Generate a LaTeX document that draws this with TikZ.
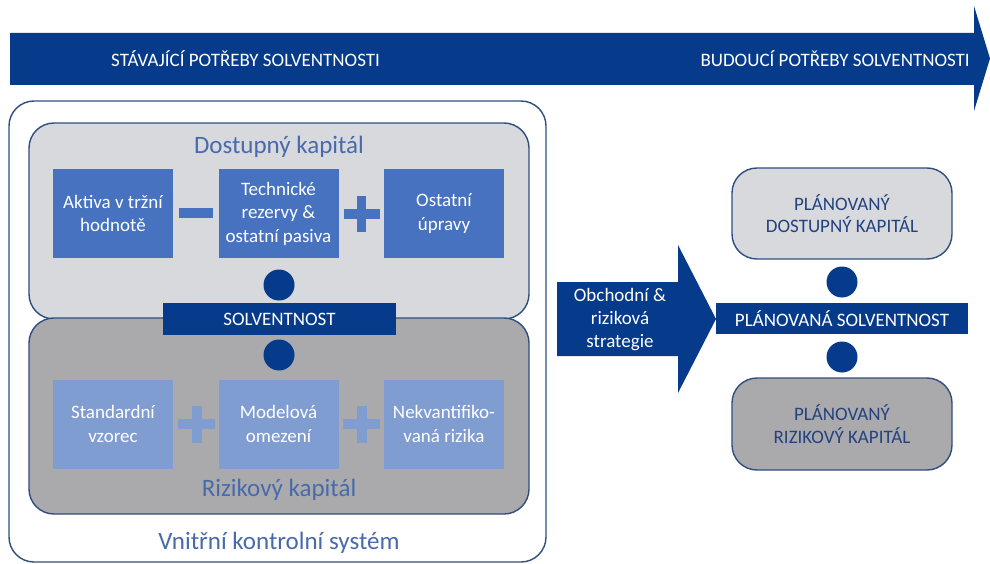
\documentclass[tikz,border=0pt]{standalone}
\usepackage{fontspec}
\setmainfont{Carlito}
\definecolor{navy}{RGB}{6,58,138}
\definecolor{boxblue}{RGB}{70,114,192}
\definecolor{lightblue}{RGB}{128,157,210}
\definecolor{lightgrey}{RGB}{215,217,221}
\definecolor{darkgrey}{RGB}{170,170,172}
\definecolor{txtblue}{RGB}{72,106,172}
\definecolor{bordercol}{RGB}{48,78,128}
\definecolor{darktxt}{RGB}{36,66,128}
\begin{document}
\begin{tikzpicture}[x=1pt,y=-1pt,
  bartext/.style={text=white,font=\fontsize{19}{23}\selectfont,inner sep=0pt},
  panel/.style={draw=bordercol,line width=1.4pt,rounded corners=25pt},
  bluebox/.style={fill=boxblue,text=white,minimum width=120pt,minimum height=89pt,align=center,inner sep=0pt,font=\fontsize{19}{23.5}\selectfont},
  lbluebox/.style={bluebox,fill=lightblue},
  dot/.style={circle,fill=navy,minimum size=31pt,inner sep=0pt},
  bignote/.style={text=txtblue,font=\fontsize{25}{30}\selectfont,inner sep=0pt},
  navybar/.style={fill=navy,text=white,inner sep=0pt,font=\fontsize{19}{23}\selectfont},
  rtext/.style={text=darktxt,align=center,font=\fontsize{19}{22.5}\selectfont,inner sep=0pt}
]
\useasboundingbox (0,0) rectangle (990,564);
% top arrow
\fill[navy] (10,33) -- (974,33) -- (974,6) -- (990,58.5) -- (974,111) -- (974,85) -- (10,85) -- cycle;
\node[bartext,anchor=west] (cur) at (111,59) {STÁVAJÍCÍ POTŘEBY SOLVENTNOSTI};
\node[bartext,anchor=east] (fut) at (970,59) {BUDOUCÍ POTŘEBY SOLVENTNOSTI};
% outer box
\draw[panel,fill=white] (9,101) rectangle (546,562);
% panels
\draw[panel,fill=lightgrey] (29,123) rectangle (529,319);
\draw[panel,fill=darkgrey] (29,318) rectangle (529,514);
\node[bignote] (dk) at (279,147) {Dostupný kapitál};
\node[bignote] (rk) at (279,490) {Rizikový kapitál};
\node[bignote] (vks) at (279,543) {Vnitřní kontrolní systém};
% top row
\node[bluebox] (a1) at (113,213.5) {Aktiva v tržní\\hodnotě};
\node[bluebox] (a2) at (278.5,213.5) {Technické\\rezervy \&\\ostatní pasiva};
\node[bluebox] (a3) at (444,213.5) {Ostatní\\úpravy};
\node[fill=boxblue,minimum width=34pt,minimum height=9pt,inner sep=0pt] (minus) at (196,213) {};
\node[fill=boxblue,minimum width=36pt,minimum height=9pt,inner sep=0pt] (plus1) at (361.5,214) {};
\node[fill=boxblue,minimum width=9pt,minimum height=36pt,inner sep=0pt] at (plus1) {};
% bottom row
\node[lbluebox] (b1) at (113,424) {Standardní\\vzorec};
\node[lbluebox] (b2) at (278.5,424) {Modelová\\omezení};
\node[lbluebox] (b3) at (444,424) {Nekvantifiko-\\vaná rizika};
\node[fill=lightblue,minimum width=37pt,minimum height=10pt,inner sep=0pt] (plus2) at (196.5,424) {};
\node[fill=lightblue,minimum width=10pt,minimum height=37pt,inner sep=0pt] at (plus2) {};
\node[fill=lightblue,minimum width=37pt,minimum height=10pt,inner sep=0pt] (plus3) at (361.5,424) {};
\node[fill=lightblue,minimum width=10pt,minimum height=37pt,inner sep=0pt] at (plus3) {};
% solvency
\node[dot] (d1) at (279,285) {};
\node[navybar,minimum width=233pt,minimum height=32pt] (solv) at (279.5,319) {SOLVENTNOST};
\node[dot] (d2) at (279,355) {};
% strategy arrow
\fill[navy] (557,282) -- (678,282) -- (678,245) -- (716,319) -- (678,393) -- (678,356) -- (557,356) -- cycle;
\node[bartext,align=center,font=\fontsize{19}{23}\selectfont] (strat) at (620,320) {Obchodní \&\\riziková\\strategie};
% right side
\node[panel,fill=lightgrey,minimum width=220pt,minimum height=91pt,rtext] (pdk) at (842,213.5) {PLÁNOVANÝ\\DOSTUPNÝ KAPITÁL};
\node[dot] (d3) at (842,282) {};
\node[navybar,minimum width=252pt,minimum height=31pt] (psolv) at (842,318.5) {PLÁNOVANÁ SOLVENTNOST};
\node[dot] (d4) at (842,357) {};
\node[panel,fill=darkgrey,minimum width=220pt,minimum height=92pt,rtext] (prk) at (842,424) {PLÁNOVANÝ\\RIZIKOVÝ KAPITÁL};
\end{tikzpicture}
\end{document}
